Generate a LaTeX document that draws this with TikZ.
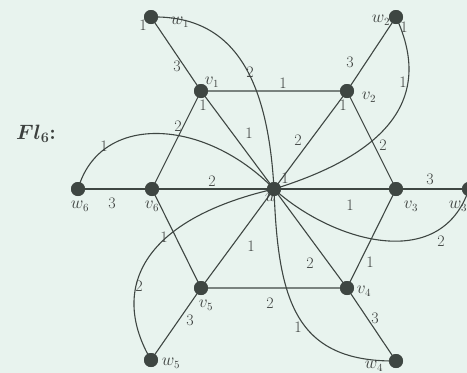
\documentclass[tikz,border=0pt]{standalone}
\usepackage{amsmath,bm}
\begin{document}
\begin{tikzpicture}[x=1pt,y=-1pt,
  dot/.style={circle,fill=dotc,inner sep=0pt,minimum size=14pt},
  edge/.style={draw=linec,line width=1.1pt},
  lab/.style={text=textc,font=\fontsize{16}{18}\selectfont,inner sep=0pt},
  nlab/.style={text=textc,font=\fontsize{16}{18}\selectfont,inner sep=0pt}]
\definecolor{bgc}{RGB}{232,243,238}
\definecolor{dotc}{RGB}{62,70,66}
\definecolor{linec}{RGB}{62,70,66}
\definecolor{textc}{RGB}{60,64,62}
\fill[bgc] (0,0) rectangle (467,373);
\useasboundingbox (0,0) rectangle (467,373);
% nodes
\node[dot] (u) at (274,189) {};
\node[dot] (v1) at (201,91) {};
\node[dot] (v2) at (347,91) {};
\node[dot] (v3) at (396,189) {};
\node[dot] (v4) at (347,288) {};
\node[dot] (v5) at (201,288) {};
\node[dot] (v6) at (152,189) {};
\node[dot] (w1) at (151,17) {};
\node[dot] (w2) at (396,17) {};
\node[dot] (w3) at (469,189) {};
\node[dot] (w4) at (396,361) {};
\node[dot] (w5) at (151,360) {};
\node[dot] (w6) at (78,189) {};
% edges
\draw[edge] (v1.center) -- (v2.center) -- (v3.center) -- (v4.center) -- (v5.center) -- (v6.center) -- (v1.center);
\foreach \v in {v1,v2,v3,v4,v5,v6} \draw[edge] (u.center) -- (\v.center);
\draw[edge] (w1.center) -- (v1.center);
\draw[edge] (w2.center) -- (v2.center);
\draw[edge] (w3.center) -- (v3.center);
\draw[edge] (w4.center) -- (v4.center);
\draw[edge] (w5.center) -- (v5.center);
\draw[edge] (w6.center) -- (v6.center);
\draw[edge] (w1.center) .. controls (235,15) and (268,80) .. (u.center);
\draw[edge] (w2.center) .. controls (430,90) and (400,150) .. (u.center);
\draw[edge] (u.center) .. controls (330,240) and (440,275) .. (w3.center);
\draw[edge] (u.center) .. controls (278,300) and (295,362) .. (w4.center);
\draw[edge] (w5.center) .. controls (110,290) and (140,220) .. (u.center);
\draw[edge] (w6.center) .. controls (100,112) and (205,118) .. (u.center);
% redraw dots on top
\foreach \n in {u,v1,v2,v3,v4,v5,v6,w1,w2,w3,w4,w5,w6} \fill[dotc] (\n) circle (7pt);
% node labels
\node[nlab] (lw1) at (180,22) {$w_1$};
\node[nlab] (lv1) at (212,82) {$v_1$};
\node[nlab] (lv2) at (369,97) {$v_2$};
\node[nlab] (lw2) at (381,20) {$w_2$};
\node[nlab] (lw6) at (80,206) {$w_6$};
\node[nlab] (lv6) at (152,206) {$v_6$};
\node[nlab] (lu) at (270,198) {$u$};
\node[nlab] (lv3) at (411,206) {$v_3$};
\node[nlab] (lw3) at (458,206) {$w_3$};
\node[nlab] (lv4) at (364,291) {$v_4$};
\node[nlab] (lv5) at (206,305) {$v_5$};
\node[nlab] (lw5) at (171,363) {$w_5$};
\node[nlab] (lw4) at (374,366) {$w_4$};
% edge labels
\node[lab] (e1) at (143,25) {1};
\node[lab] (e2) at (404,27) {1};
\node[lab] (e3) at (285,178) {1};
\node[lab] (e4) at (203,105) {1};
\node[lab] (e5) at (343,105) {1};
\node[lab] (e6) at (250,72) {2};
\node[lab] (e7) at (403,82) {1};
\node[lab] (e8) at (441,241) {2};
\node[lab] (e9) at (298,327) {1};
\node[lab] (e10) at (139,286) {2};
\node[lab] (e11) at (104,146) {1};
\node[lab] (e12) at (212,181) {2};
\node[lab] (e13) at (350,205) {1};
\node[lab] (e14) at (249,133) {1};
\node[lab] (e15) at (298,140) {2};
\node[lab] (e16) at (310,263) {2};
\node[lab] (e17) at (251,246) {1};
\node[lab] (e18) at (270,303) {2};
\node[lab] (e19) at (370,262) {1};
\node[lab] (e20) at (283,83) {1};
\node[lab] (e21) at (383,145) {2};
\node[lab] (e22) at (164,237) {1};
\node[lab] (e23) at (178,126) {2};
\node[lab] (e24) at (177,66) {3};
\node[lab] (e25) at (350,62) {3};
\node[lab] (e26) at (430,179) {3};
\node[lab] (e27) at (112,203) {3};
\node[lab] (e28) at (190,320) {3};
\node[lab] (e29) at (375,318) {3};
% title
\node[text=textc,font=\fontsize{21}{24}\selectfont,inner sep=0pt] (title) at (36,134) {$\bm{Fl_6}$\textbf{:}};
\end{tikzpicture}
\end{document}
